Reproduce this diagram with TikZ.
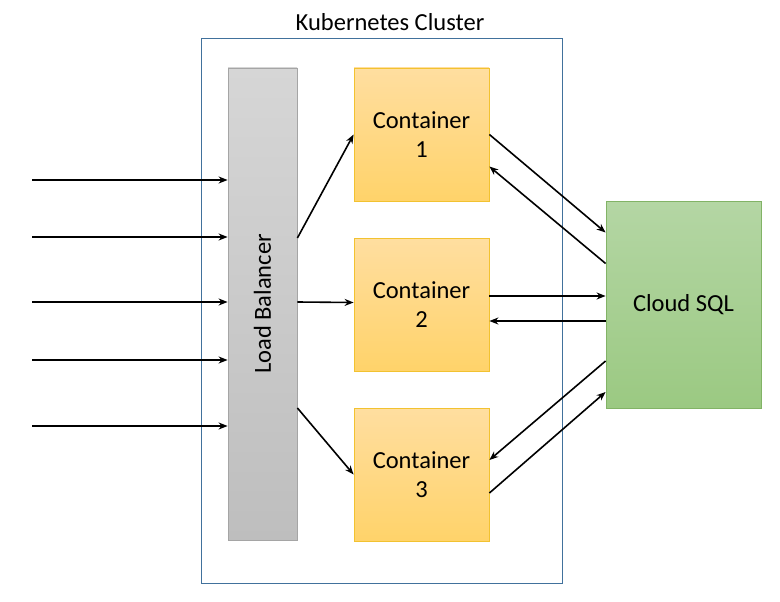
\documentclass[tikz,border=0pt]{standalone}
\usepackage{fontspec}
\setmainfont{Carlito}
\usetikzlibrary{arrows.meta,calc}
\definecolor{clusterblue}{HTML}{41719C}
\definecolor{lbtop}{HTML}{D6D6D6}
\definecolor{lbbot}{HTML}{BEBEBE}
\definecolor{lbline}{HTML}{A5A5A5}
\definecolor{ctop}{HTML}{FFDEA0}
\definecolor{cbot}{HTML}{FFD36A}
\definecolor{cline}{HTML}{F2C230}
\definecolor{stop}{HTML}{B4D6A4}
\definecolor{sbot}{HTML}{9BC982}
\definecolor{sline}{HTML}{82B366}
\tikzset{
  bigtext/.style={font=\fontsize{24.5}{29}\selectfont},
  lbbox/.style={draw=lbline, line width=0.8pt, top color=lbtop, bottom color=lbbot, minimum width=69pt, minimum height=472pt, inner sep=0pt},
  contbox/.style={draw=cline, line width=0.8pt, top color=ctop, bottom color=cbot, minimum width=135pt, minimum height=133pt, inner sep=0pt, align=center, bigtext},
  sqlbox/.style={draw=sline, line width=0.8pt, top color=stop, bottom color=sbot, minimum width=155pt, minimum height=207pt, inner sep=0pt, bigtext},
  arr/.style={-{Stealth[length=9pt,width=7pt]}, line width=1.6pt, black},
}
\begin{document}
\begin{tikzpicture}[x=1pt,y=-1pt]
\useasboundingbox (0,0) rectangle (780,602);
\node[draw=clusterblue, line width=0.8pt, minimum width=361pt, minimum height=545pt, inner sep=0pt] (cluster) at (381.5,310.5) {};
\node[bigtext] (title) at (390,22) {Kubernetes Cluster};
\node[lbbox] (lb) at (262.5,304) {};
\node[rotate=90, bigtext] (lbt) at (lb.center) {Load Balancer};
\node[contbox] (c1) at (421.5,134.5) {Container\\1};
\node[contbox] (c2) at (421.5,304.5) {Container\\2};
\node[contbox] (c3) at (421.5,474.5) {Container\\3};
\node[sqlbox] (sql) at (683.5,304.5) {Cloud SQL};
\foreach \i/\y in {1/180,2/237,3/302,4/360,5/426}{
  \coordinate (in\i) at (32,\y);
  \draw[arr] (in\i) -- (in\i -| lb.west);
}
\draw[arr] ([yshift=66pt]lb.east) -- (c1.west);
\draw[arr] ([yshift=2pt]lb.east) -- ([yshift=2pt]c2.west);
\draw[arr] ([yshift=-104pt]lb.east) -- (c3.west);
\draw[arr] (c1.east) -- ([yshift=72pt]sql.west);
\draw[arr] ([yshift=41pt]sql.west) -- ([yshift=-32pt]c1.east);
\draw[arr] ([yshift=8.5pt]c2.east) -- ([yshift=8.5pt]sql.west);
\draw[arr] ([yshift=-16.5pt]sql.west) -- ([yshift=-16.5pt]c2.east);
\draw[arr] ([yshift=-56.5pt]sql.west) -- ([yshift=14.5pt]c3.east);
\draw[arr] ([yshift=-18.5pt]c3.east) -- ([yshift=-87.5pt]sql.west);
\end{tikzpicture}
\end{document}
